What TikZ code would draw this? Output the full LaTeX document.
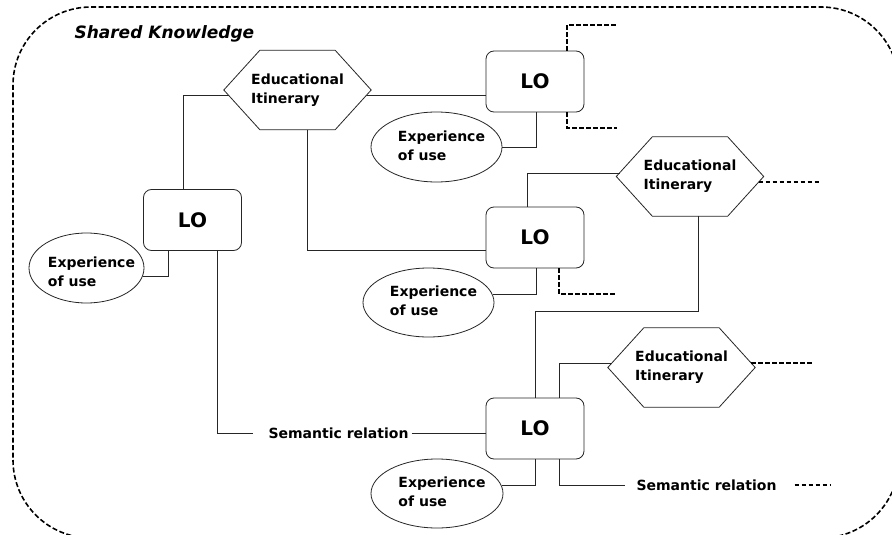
\documentclass[tikz,border=0pt]{standalone}
\usepackage{fontspec}
\setmainfont{DejaVu Sans}
\usetikzlibrary{shapes.geometric}

% two-line label of the experience ellipses, nudged a little right;
% the optional strut height pushes the lines down
\newcommand\explabel[1][0pt]{\makebox[0pt]{\hspace{10pt}\begin{tabular}{@{}l@{}}\rule{0pt}{#1}Experience\\of use\end{tabular}}}

\begin{document}
\begin{tikzpicture}[x=1pt,y=-1pt,
  every node/.style={font=\bfseries\fontsize{14}{19}\selectfont, text=black},
  lobox/.style={draw=black!85, rounded corners=8pt, minimum width=98pt, minimum height=61pt,
    font=\bfseries\fontsize{20}{24}\selectfont, line width=0.8pt},
  hexbox/.style={minimum width=147pt, minimum height=79pt, align=left, inner sep=0pt},
  expbox/.style={draw=black!85, ellipse, inner sep=0pt, line width=0.8pt},
  link/.style={draw=black!85, line width=0.8pt},
  openlink/.style={draw=black, dash pattern=on 4.5pt off 2.5pt, line width=1.6pt},
  relbox/.style={inner sep=0pt},
  frame/.style={draw=black, dash pattern=on 5pt off 2.5pt, line width=1.6pt, rounded corners=78pt}
]
\useasboundingbox (0,0) rectangle (892,535);
\fill[white] (0,0) rectangle (892,535);
\clip (0,0) rectangle (892,535);

% shared knowledge area
\draw[frame] (13,7) rectangle (899,538);
\node[anchor=west, font=\bfseries\itshape\fontsize{17}{20}\selectfont] (title) at (71,34) {Shared Knowledge};

% learning objects
\node[lobox] (lo1) at (192.5,220) {LO};
\node[lobox] (lo2) at (535,81.5) {LO};
\node[lobox] (lo3) at (535,237.5) {LO};
\node[lobox] (lo4) at (535,428.5) {LO};

% educational itineraries
\node[hexbox] (it1) at (297.5,90) {Educational\\Itinerary};
\node[hexbox] (it2) at (690,176.5) {Educational\\Itinerary};
\node[hexbox] (it3) at (681.5,367.5) {Educational\\Itinerary};
\foreach \h in {it1,it2,it3}
  \draw[link] (\h.west) -- ([xshift=36pt]\h.north west) -- ([xshift=-36pt]\h.north east)
    -- (\h.east) -- ([xshift=-36pt]\h.south east) -- ([xshift=36pt]\h.south west) -- cycle;

% experience of use
\node[expbox, minimum width=115pt, minimum height=70pt] (ex1) at (86.5,268) {\explabel[23.5pt]};
\node[expbox, minimum width=131pt, minimum height=70pt] (ex2) at (436.5,147) {\explabel};
\node[expbox, minimum width=131pt, minimum height=69pt] (ex3) at (428.5,302.5) {\explabel};
\node[expbox, minimum width=132pt, minimum height=69pt] (ex4) at (437,493.5) {\explabel};

% semantic relations
\node[relbox] (sr1) at (338.5,433) {Semantic relation};
\node[relbox] (sr2) at (706.5,485) {Semantic relation};

% open ends
\coordinate (o1) at (617,25);
\coordinate (o2) at (617,128);
\coordinate (o3) at (821,182);
\coordinate (o4) at (617,294);
\coordinate (o5) at (813,363);
\coordinate (o6) at (830,485);

% connectors
\draw[link] ([xshift=-9.5pt]lo1.north) |- ([xshift=4.7pt,yshift=-5pt]it1.west);
\draw[link] ([xshift=-4.7pt,yshift=-5pt]it1.east) coordinate (t1) -- (t1 -| lo2.west);
\draw[link] ([xshift=9.5pt]it1.south) |- ([yshift=-12.5pt]lo3.west);
\draw[link] ([xshift=-24.5pt]lo1.south) |- (ex1.-9.2);
\draw[link] ([xshift=24.5pt]lo1.south) |- ([xshift=-15pt]sr1.west);
\draw[link] ([xshift=3pt]sr1.east) -- (sr1.east -| lo4.west);

\draw[link] ([xshift=1pt]lo2.south) |- (ex2.east);
\draw[openlink] ([xshift=32pt]lo2.north) |- (o1);
\draw[openlink] ([xshift=32pt]lo2.south) |- (o2);

\draw[link] ([xshift=-8pt]lo3.north) |- ([xshift=3.3pt,yshift=3.5pt]it2.west);
\draw[openlink] ([xshift=-5.2pt,yshift=-5.5pt]it2.east) -- (o3);
\draw[link] ([xshift=1pt]lo3.south) |- (ex3.7.6);
\draw[openlink] ([xshift=24pt]lo3.south) |- (o4);

\draw[link] ([xshift=8pt]it2.south) |- ([yshift=86pt]lo4.north) -- (lo4.north);
\draw[link] ([xshift=24pt]lo4.north) |- ([xshift=4.2pt,yshift=4.5pt]it3.west);
\draw[openlink] ([xshift=-4.2pt,yshift=4.5pt]it3.east) -- (o5);
\draw[link] (lo4.south) |- (ex4.7.6);
\draw[link] ([xshift=24pt]lo4.south) |- ([xshift=-11pt]sr2.west);
\draw[openlink] ([xshift=18pt]sr2.east) -- (o6);
\end{tikzpicture}
\end{document}
